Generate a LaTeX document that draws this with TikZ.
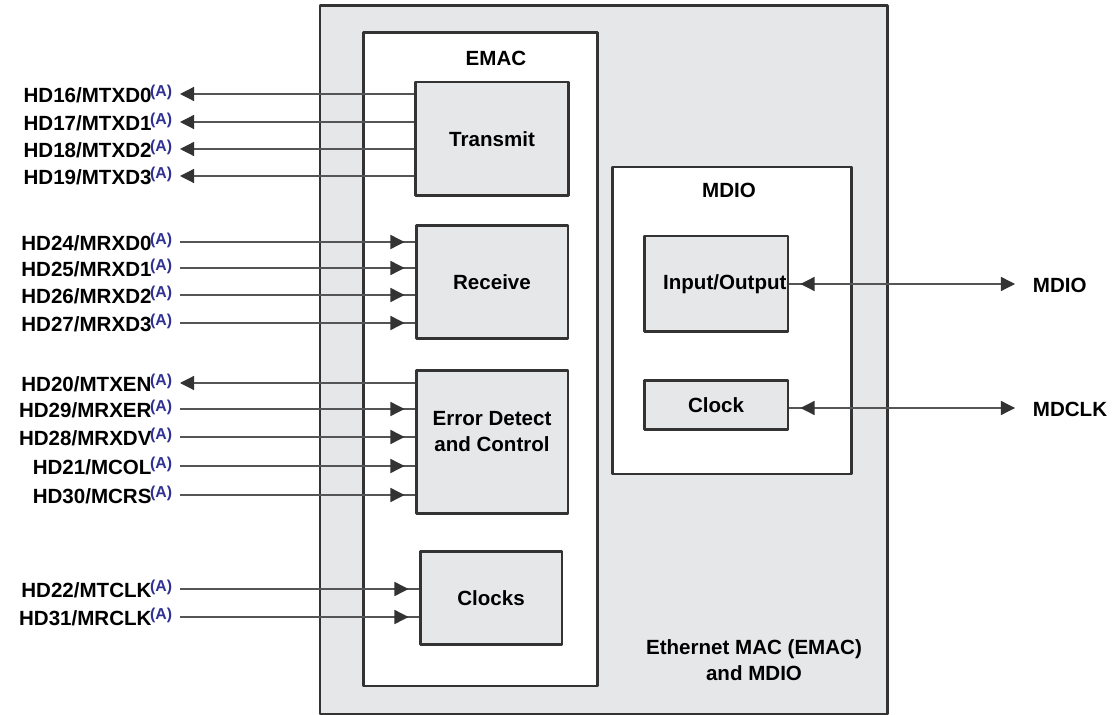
\documentclass[tikz,border=0pt]{standalone}
\usepackage{fontspec}
\setmainfont{Liberation Sans}
\usetikzlibrary{arrows.meta,decorations.markings}
\definecolor{boxgray}{HTML}{E6E7E9}
\definecolor{edge}{HTML}{333333}
\definecolor{wire}{HTML}{555555}
\definecolor{noteblue}{HTML}{2E3192}
\newcommand{\noteA}{\kern-0.8pt\raisebox{3.6pt}{\fontsize{9}{9}\selectfont\color{noteblue}(A)}}

\begin{document}
\begin{tikzpicture}[x=0.02cm,y=-0.02cm,line join=round,
    font=\fontsize{11.7}{15}\selectfont\bfseries,
    frame/.style={draw=edge,line width=1.7pt},
    blk/.style={frame,fill=boxgray,inner sep=0pt,align=center},
    pin/.style={anchor=east,inner sep=0pt,outer xsep=4.5pt,text height=12pt,text depth=2.4pt},
    rpin/.style={anchor=west,inner sep=0pt,outer xsep=10.2pt,text height=12pt,text depth=2.4pt},
    wire/.style={draw=wire,line width=0.7pt},
    outarr/.style={wire,-{Triangle[length=8pt,width=8pt,color=edge]}},
    inarr/.style={wire,postaction={decorate},decoration={markings,
        mark=at position -0.2cm with {\arrow{Triangle[length=8pt,width=8pt,color=edge]}}}},
    bidir/.style={wire,-{Triangle[length=8pt,width=8pt,color=edge]},postaction={decorate},
        decoration={markings,mark=at position 0.22cm with {\arrowreversed{Triangle[length=8pt,width=8pt,color=edge]}}}}]
  \useasboundingbox (0,0) rectangle (1114,715);
  % containers
  \draw[frame,fill=boxgray] (320,6) rectangle (887,714);
  \draw[frame,fill=white] (363,33) rectangle (597,686);
  \draw[frame,fill=white] (612,167) rectangle (851,474);
  \node (emac) at (496,58) {EMAC};
  \node (mdiot) at (729,190) {MDIO};
  \node[align=center] (cap) at (754,660) {Ethernet MAC (EMAC)\\and MDIO};
  % EMAC blocks
  \node[blk,minimum width=3.06cm,minimum height=2.28cm] (tx) at (492,139) {Transmit};
  \node[blk,minimum width=3.04cm,minimum height=2.28cm] (rx) at (492,282) {Receive};
  \node[blk,minimum width=3.04cm,minimum height=2.86cm] (err) at (492,442) {Error Detect\\and Control\\[-3pt]};
  \node[blk,minimum width=2.84cm,minimum height=1.86cm] (clks) at (491,598) {Clocks};
  % MDIO blocks
  \node[blk,minimum width=2.88cm,minimum height=1.92cm] (io) at (716,284) {\hspace{10pt}Input/Output};
  \node[blk,minimum width=2.88cm,minimum height=0.98cm] (clk) at (716,405) {Clock};
  % EMAC pins
  \foreach \y/\a/\b [count=\i] in {94/HD16/MTXD0,122/HD17/MTXD1,149/HD18/MTXD2,176/HD19/MTXD3}{
    \node[pin] (tx\i) at (180,\y) {\a/\b\noteA};
    \draw[outarr] (tx.west |- tx\i) -- (tx\i);}
  \foreach \y/\a/\b [count=\i] in {242/HD24/MRXD0,268/HD25/MRXD1,295/HD26/MRXD2,323/HD27/MRXD3}{
    \node[pin] (rx\i) at (180,\y) {\a/\b\noteA};
    \draw[inarr] (rx\i) -- (rx.west |- rx\i);}
  \node[pin] (er0) at (180,383) {HD20/MTXEN\noteA};
  \draw[outarr] (err.west |- er0) -- (er0);
  \foreach \y/\a/\b [count=\i] in {409/HD29/MRXER,437/HD28/MRXDV,466/HD21/MCOL,495/HD30/MCRS}{
    \node[pin] (er\i) at (180,\y) {\a/\b\noteA};
    \draw[inarr] (er\i) -- (err.west |- er\i);}
  \foreach \y/\a/\b [count=\i] in {589/HD22/MTCLK,617/HD31/MRCLK}{
    \node[pin] (ck\i) at (180,\y) {\a/\b\noteA};
    \draw[inarr] (ck\i) -- (clks.west |- ck\i);}
  % MDIO pins
  \node[rpin] (mdio) at (1015,284) {MDIO};
  \node[rpin] (mdclk) at (1015,408) {MDCLK};
  \draw[bidir] (io.east |- mdio) -- (mdio);
  \draw[bidir] (clk.east |- mdclk) -- (mdclk);
\end{tikzpicture}
\end{document}
